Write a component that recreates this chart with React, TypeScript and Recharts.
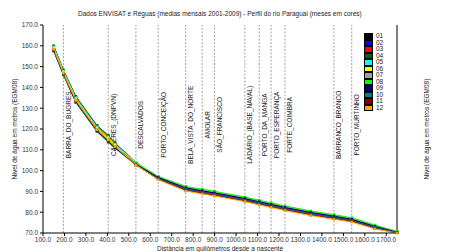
import { LineChart, Line, XAxis, YAxis, ReferenceLine } from 'recharts';

// distance from the source (km) of each measured point
const KM = [150, 195, 253, 352, 404, 436, 533, 637, 765, 842, 899, 1041, 1108, 1163, 1228, 1347, 1456, 1539, 1647, 1750];

// monthly mean water level (m, EGM08) at each point
const M01 = [159.0, 147.5, 134.5, 120.5, 115.7, 112.3, 103.3, 96.2, 91.0, 89.6, 88.6, 85.9, 84.3, 83.1, 81.6, 79.2, 77.4, 76.0, 72.6, 70.2];
const M02 = [159.5, 148.0, 135.1, 121.1, 116.3, 112.8, 103.6, 96.3, 91.2, 89.8, 88.8, 86.1, 84.5, 83.3, 81.8, 79.4, 77.6, 76.2, 72.8, 70.3];
const M03 = [159.7, 148.2, 135.4, 121.4, 116.6, 113.0, 103.8, 96.5, 91.5, 90.1, 89.1, 86.4, 84.8, 83.6, 82.1, 79.7, 77.9, 76.5, 73.0, 70.4];
const M04 = [160.0, 148.4, 135.7, 121.7, 117.0, 113.3, 104.0, 96.8, 91.8, 90.4, 89.4, 86.7, 85.1, 83.9, 82.4, 80.0, 78.2, 76.7, 73.3, 70.5];
const M05 = [159.4, 147.9, 135.0, 121.0, 116.2, 112.7, 103.9, 97.0, 92.1, 90.7, 89.7, 87.0, 85.4, 84.2, 82.7, 80.3, 78.5, 77.0, 73.5, 70.6];
const M06 = [158.9, 147.4, 134.4, 120.4, 115.6, 112.2, 103.7, 97.1, 92.2, 90.8, 89.8, 87.1, 85.5, 84.3, 82.8, 80.4, 78.6, 77.1, 73.6, 70.6];
const M07 = [158.4, 146.9, 133.9, 119.9, 114.9, 111.7, 103.6, 97.1, 92.3, 90.9, 89.9, 87.2, 85.6, 84.4, 82.9, 80.5, 78.7, 77.2, 73.7, 70.6];
const M08 = [158.0, 146.5, 133.4, 119.4, 114.4, 111.3, 103.5, 97.2, 92.4, 91.0, 90.0, 87.3, 85.7, 84.5, 83.0, 80.6, 78.8, 77.3, 73.8, 70.7];
const M09 = [157.6, 146.2, 132.9, 118.9, 113.9, 110.9, 103.1, 96.7, 91.7, 90.3, 89.3, 86.6, 85.0, 83.8, 82.3, 79.9, 78.1, 76.6, 73.2, 70.4];
const M10 = [157.4, 146.0, 132.7, 118.7, 113.6, 110.7, 102.7, 96.1, 90.9, 89.5, 88.5, 85.8, 84.2, 83.0, 81.5, 79.1, 77.3, 75.9, 72.6, 70.2];
const M11 = [157.8, 146.3, 133.2, 119.2, 114.1, 111.1, 102.7, 95.8, 90.5, 89.1, 88.1, 85.4, 83.8, 82.6, 81.1, 78.7, 76.9, 75.6, 72.2, 70.1];
const M12 = [158.3, 146.8, 133.7, 119.7, 114.8, 111.6, 102.8, 95.6, 90.2, 88.8, 87.8, 85.1, 83.5, 82.3, 80.8, 78.4, 76.6, 75.3, 72.0, 70.0];

const MONTHS = ['01', '02', '03', '04', '05', '06', '07', '08', '09', '10', '11', '12'];
const SERIES = [M01, M02, M03, M04, M05, M06, M07, M08, M09, M10, M11, M12];
const COLORS = ['#000000', '#0000ff', '#ff0000', '#006400', '#00ffff', '#ffff00', '#a0a0a0', '#00ff00', '#000080', '#008080', '#800000', '#ffa500'];

const STATIONS = [
  'BARRA_DO_BUGRES', 'CÁCERES_(DNPVN)', 'DESCALVADOS', 'PORTO_CONCEIÇÃO', 'BELA_VISTA_DO_NORTE',
  'AMOLAR', 'SÃO_FRANCISCO', 'LADÁRIO_(BASE_NAVAL)', 'PORTO_DA_MANGA', 'PORTO_ESPERANÇA',
  'FORTE_COIMBRA', 'BARRANCO_BRANCO', 'PORTO_MURTINHO',
];
const STATION_KM = [195, 404, 533, 637, 765, 842, 899, 1041, 1108, 1163, 1228, 1456, 1539];

const X_TICKS = [100, 200, 300, 400, 500, 600, 700, 800, 900, 1000, 1100, 1200, 1300, 1400, 1500, 1600, 1700];
const Y_TICKS = [70, 80, 90, 100, 110, 120, 130, 140, 150, 160, 170];

const data = KM.map((km, i) => {
  const row: Record<string, number> = { km };
  MONTHS.forEach((m, j) => { row[m] = SERIES[j][i]; });
  return row;
});

const FONT = '"Liberation Sans", Arial, sans-serif';
const tickStyle = { fontSize: 6.5, fill: '#333', fontFamily: FONT };
const labelStyle = { textAnchor: 'middle', fontSize: 6.5, fill: '#222', fontFamily: FONT };
const fmt = (v: number) => v.toFixed(1);

const StationLabel = ({ viewBox, name }: any) => {
  const x = viewBox.x + 7.5;
  const y = viewBox.y + viewBox.height * 0.48;
  return (
    <text x={x} y={y} transform={`rotate(-90, ${x}, ${y})`} textAnchor="middle"
      fontSize={6.5} fontFamily={FONT} fill="#222">
      {name}
    </text>
  );
};

const MonthLegend = () => (
  <div style={{ position: 'absolute', left: 364, top: 33, fontFamily: FONT, fontSize: 6.5, color: '#222' }}>
    {MONTHS.map((m, i) => (
      <div key={m} style={{ display: 'flex', alignItems: 'center', height: 6.5 }}>
        <span style={{ width: 7, height: 4.5, background: COLORS[i], border: '0.5px solid #000', marginRight: 3 }} />
        <span style={{ lineHeight: '6.5px' }}>{m}</span>
      </div>
    ))}
  </div>
);

const App = () => {
  return (
    <div style={{ position: 'absolute', left: 0, top: 0, width: 473, height: 252, background: '#fff' }}>
      <div style={{ position: 'absolute', left: 78, top: 10, fontFamily: FONT, fontSize: 6.5, color: '#222', whiteSpace: 'nowrap' }}>
        Dados ENVISAT e Réguas (medias mensais 2001-2009) - Perfil do rio Paraguai (meses em cores)
      </div>
      <LineChart width={473} height={252} data={data} margin={{ top: 25, right: 0, bottom: 0, left: 0 }}>
        <XAxis xAxisId="bottom" dataKey="km" type="number" domain={[100, 1750]} ticks={X_TICKS} interval={0}
          tickFormatter={fmt} tick={tickStyle} tickSize={3} tickMargin={1} stroke="#000" height={19}
          label={{ value: 'Distância em quilômetros desde a nascente', position: 'insideBottom', offset: 1, style: labelStyle }} />
        <XAxis xAxisId="top" orientation="top" dataKey="km" type="number" domain={[100, 1750]} ticks={X_TICKS}
          interval={0} tickFormatter={() => ''} tickSize={3} stroke="#000" height={0} />
        <YAxis yAxisId="left" type="number" domain={[70, 170]} ticks={Y_TICKS} interval={0} tickFormatter={fmt}
          tick={tickStyle} tickSize={3} tickMargin={2} stroke="#000" width={43}
          label={{ value: 'Nível de água em metros (EGM08)', angle: -90, position: 'insideLeft', offset: 15, style: labelStyle }} />
        <YAxis yAxisId="right" orientation="right" type="number" domain={[70, 170]} ticks={Y_TICKS} interval={0}
          tickFormatter={fmt} tick={tickStyle} tickSize={3} tickMargin={2} stroke="#000" width={76}
          label={{ value: 'Nível de água em metros (EGM08)', angle: -90, position: 'insideLeft', offset: 30, style: labelStyle }} />
        {STATIONS.map((name, i) => (
          <ReferenceLine key={name} x={STATION_KM[i]} xAxisId="bottom" yAxisId="left" stroke="#888"
            strokeDasharray="2 1.5" strokeWidth={0.8}
            label={(p: any) => <StationLabel {...p} name={name} />} />
        ))}
        {MONTHS.map((m, j) => (
          <Line key={m} xAxisId="bottom" yAxisId="left" dataKey={m} name={m} stroke={COLORS[j]} strokeWidth={1}
            isAnimationActive={false}
            dot={(p: any) => (
              <rect key={`${m}-${p.index}`} x={p.cx - 1.3} y={p.cy - 1.3} width={2.6} height={2.6} fill={COLORS[j]} />
            )} />
        ))}
      </LineChart>
      <MonthLegend />
    </div>
  );
};

export default App;
